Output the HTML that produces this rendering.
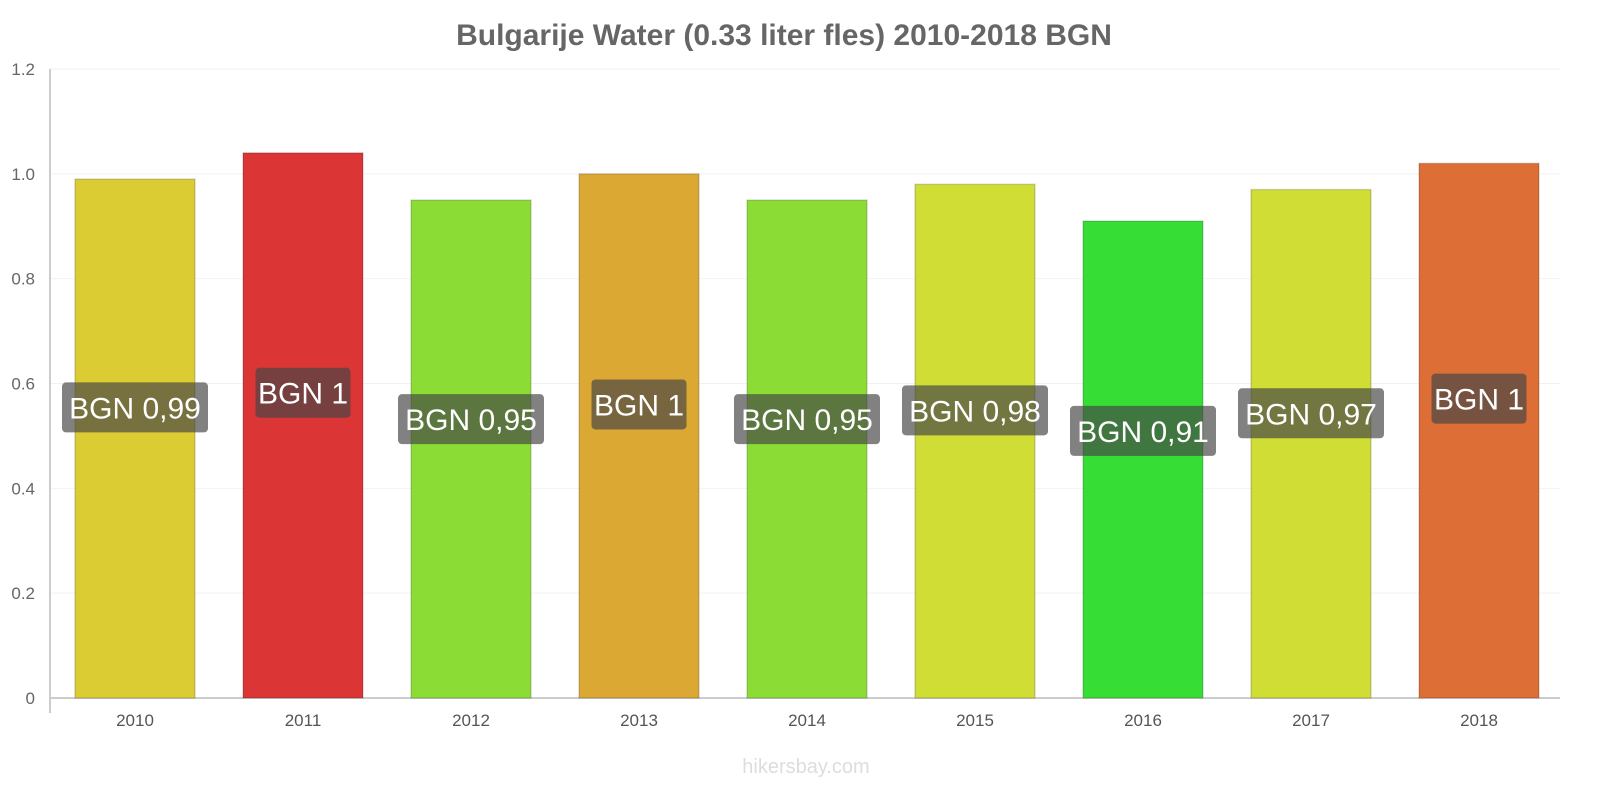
<!DOCTYPE html>
<html><head><meta charset="utf-8"><style>
body{margin:0;background:#fff;font-family:"Liberation Sans",sans-serif}
svg{display:block}
</style></head><body>
<svg id="chart" width="1600" height="800">
<text x="784" y="45" text-anchor="middle" font-size="30" font-weight="bold" fill="#666">Bulgarije Water (0.33 liter fles) 2010-2018 BGN</text>
<g id="grid"></g><g id="bars"></g><g id="labels"></g>
<text x="806" y="773" text-anchor="middle" font-size="20" fill="#ddd">hikersbay.com</text>
</svg>
<script>
const categories=["2010","2011","2012","2013","2014","2015","2016","2017","2018"];
const values=[0.99,1.04,0.95,1.0,0.95,0.98,0.91,0.97,1.02];
const labels=["BGN 0,99","BGN 1","BGN 0,95","BGN 1","BGN 0,95","BGN 0,98","BGN 0,91","BGN 0,97","BGN 1"];
const colors=["#dccc33","#dc3535","#8bdd35","#dca834","#8bdd35","#cfdd35","#35dd35","#cfdd35","#dd6e35"];
const ticks=[0,0.2,0.4,0.6,0.8,1.0,1.2];
const tickLabels=["0","0.2","0.4","0.6","0.8","1.0","1.2"];
const NS="http://www.w3.org/2000/svg";
const y=v=>698-v/1.2*629;
const x=i=>135+i*168;
function mk(tag,attrs,parent,text){const e=document.createElementNS(NS,tag);for(const k in attrs)e.setAttribute(k,attrs[k]);if(text!==undefined)e.textContent=text;parent.appendChild(e);return e;}
const g=document.getElementById('grid'),b=document.getElementById('bars'),l=document.getElementById('labels');
ticks.forEach((t,i)=>{
 const ln=mk('line',{x1:50,x2:1560,y1:y(t),y2:y(t),stroke:t===0?'#ccc':'#f2f2f2','stroke-width':t===0?2:1},g);
 
 
 const tx=mk('text',{x:35,y:y(t)+6,'text-anchor':'end','font-size':17,fill:'#666'},g,tickLabels[i]);
 
 
});
const ax=mk('line',{x1:50,x2:50,y1:69,y2:713,stroke:'#ccc','stroke-width':2},g);


values.forEach((v,i)=>{
 const top=y(v);
 const r=mk('rect',{x:x(i)-60,y:top,width:120,height:698-top,fill:colors[i],stroke:'rgba(0,0,0,0.15)','stroke-width':1.5},b);
 
 
 const t=mk('text',{x:x(i),y:726,'text-anchor':'middle','font-size':17,fill:'#555'},g,categories[i]);
 
 
 const cy=top+0.44*(698-top);
 const w=labels[i].length*17+10;
 const bg=mk('rect',{x:x(i)-w/2,y:cy-25,width:w,height:50,rx:4,fill:'rgba(70,70,70,0.68)'},l);
 
 
 const lt=mk('text',{x:x(i),y:cy+11,'text-anchor':'middle','font-size':30,fill:'#fff'},l,labels[i]);
 
 
});
</script>
</body></html>
